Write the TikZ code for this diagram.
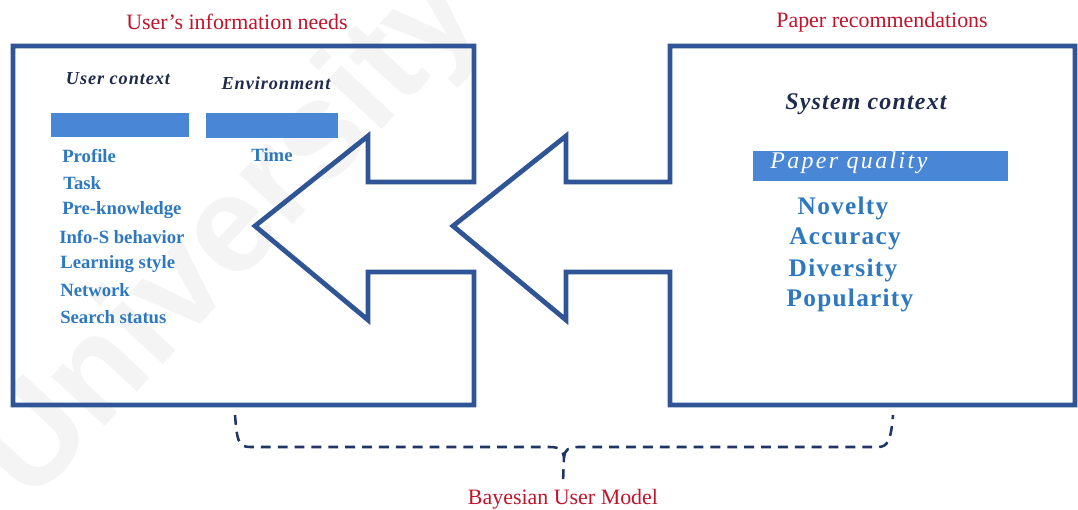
\documentclass[tikz,border=0pt]{standalone}
\usepackage{fontspec}
\setmainfont{Liberation Serif}
\newfontfamily\markfont{Liberation Sans}
\newfontfamily\widefont[LetterSpace=10]{Liberation Serif}
\newfontfamily\midfont[LetterSpace=5]{Liberation Serif}

\definecolor{frameblue}{HTML}{2F5597}
\definecolor{barblue}{HTML}{4A86D6}
\definecolor{itemblue}{HTML}{2E78C0}
\definecolor{headred}{HTML}{C0142C}
\definecolor{navy}{HTML}{1F2B4A}
\definecolor{dashnavy}{HTML}{1F3564}

\tikzset{
  frame/.style={draw=frameblue, line width=3.4pt, line join=miter},
  bar/.style={fill=barblue},
  item/.style={text=itemblue, font=\fontsize{13.3pt}{15pt}\selectfont\bfseries, anchor=west, inner sep=0pt},
  quality/.style={text=itemblue, font=\midfont\fontsize{18pt}{20pt}\selectfont\bfseries, inner sep=0pt},
  heading/.style={text=headred, font=\fontsize{15.6pt}{18pt}\selectfont, inner sep=0pt},
  ctx/.style={text=navy, font=\midfont\fontsize{13pt}{15pt}\selectfont\bfseries\itshape, inner sep=0pt},
  brace/.style={draw=dashnavy, line width=1.8pt, dash pattern=on 7pt off 5pt}
}

\begin{document}
\begin{tikzpicture}[x=0.025cm, y=-0.025cm]
\useasboundingbox (0,0) rectangle (1078,510);
\fill[white] (0,0) rectangle (1078,510);

% background watermark
\node[rotate=47, text=gray!9, font=\markfont\bfseries\fontsize{98pt}{98pt}\selectfont, inner sep=0pt] (mark) at (232,238) {University};

% left panel merged with its arrow
\draw[frame] (474,182) -- (474,46) -- (13,46) -- (13,405) -- (474,405) -- (474,272)
  -- (368,272) -- (368,320) -- (255,226) -- (368,136) -- (368,182) -- cycle;

% right panel merged with its arrow
\draw[frame] (670,182) -- (670,46) -- (1075,46) -- (1075,405) -- (670,405) -- (670,272)
  -- (566,272) -- (566,320) -- (453,226) -- (566,136) -- (566,182) -- cycle;

% headings
\node[heading] (needs) at (237,22) {User's information needs};
\node[heading] (recs) at (882,22) {Paper recommendations};
\node[heading] (bum) at (563,499) {Bayesian User Model};

% user side
\node[ctx] (uctx) at (118,79) {User context};
\node[ctx] (env) at (276,83) {Environment};
\fill[bar] (51,113) rectangle (189,137);
\fill[bar] (206,113) rectangle (338,138);
\node[item] (profile) at (62,156) {Profile};
\node[item] (task) at (63,183) {Task};
\node[item] (pre) at (62,210) {Pre-knowledge};
\node[item] (info) at (59,237) {Info-S behavior};
\node[item] (learn) at (60,264) {Learning style};
\node[item] (net) at (60,290) {Network};
\node[item] (search) at (60,317) {Search status};
\node[item, anchor=center] (time) at (272,155) {Time};

% system side
\node[ctx, font=\midfont\fontsize{17pt}{19pt}\selectfont\bfseries\itshape] (sctx) at (866,104) {System context};
\fill[bar] (753,151) rectangle (1008,181);
\node[anchor=west, inner sep=0pt, text=white, font=\widefont\fontsize{17pt}{19pt}\selectfont\itshape] (pq) at (770,163) {Paper quality};
\node[quality] (nov) at (843,208) {Novelty};
\node[quality] (acc) at (845,239) {Accuracy};
\node[quality] (div) at (843,270) {Diversity};
\node[quality] (pop) at (850,300) {Popularity};

% dashed brace joining both panels
\coordinate (bL) at (235,415);
\coordinate (bR) at (893,415);
\coordinate (bM) at (564,457);
\coordinate (bT) at (563,482);
\draw[brace] (bL) .. controls (237,440) and (238,447) .. (250,447) -- (550,447)
  .. controls (559,447) and (563,450) .. (bM) -- (bT);
\draw[brace] (bM) .. controls (565,450) and (568,447) .. (578,447) -- (878,447)
  .. controls (888,447) and (891,440) .. (bR);
\end{tikzpicture}
\end{document}
